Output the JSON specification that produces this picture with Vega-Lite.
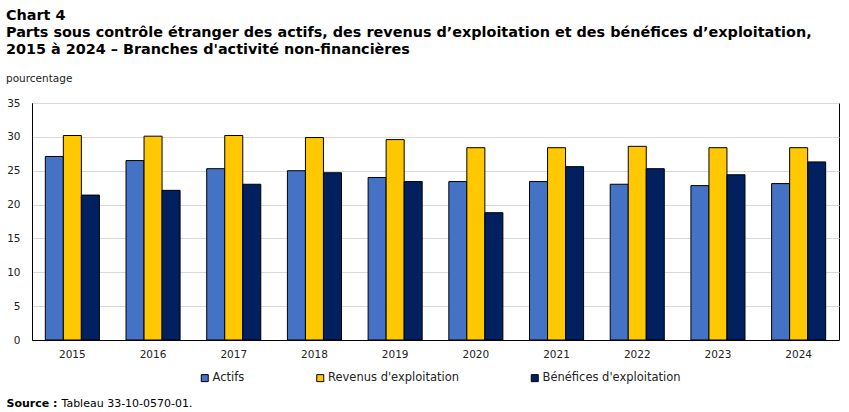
{
  "$schema": "https://vega.github.io/schema/vega-lite/v6.json",
  "autosize": "none",
  "width": 807,
  "height": 237,
  "padding": {"left": 32, "top": 103, "right": 10, "bottom": 72},
  "background": "white",
  "config": {
    "font": "DejaVu Sans",
    "view": {"stroke": "black", "strokeWidth": 1},
    "axis": {"labelFont": "DejaVu Sans", "titleFont": "DejaVu Sans"}
  },
  "title": {
    "text": [
      "Chart 4",
      "Parts sous contrôle étranger des actifs, des revenus d’exploitation et des bénéfices d’exploitation,",
      "2015 à 2024 – Branches d'activité non-financières"
    ],
    "subtitle": "pourcentage",
    "anchor": "start",
    "frame": "bounds",
    "font": "DejaVu Sans",
    "fontSize": 14.4,
    "fontWeight": "bold",
    "lineHeight": 17,
    "color": "black",
    "subtitleFont": "DejaVu Sans",
    "subtitleFontSize": 10.5,
    "subtitleColor": "#222222",
    "subtitlePadding": 16,
    "offset": 13
  },
  "data": {
    "values": [
      {"annee": "2015", "serie": "Actifs", "valeur": 27.1},
      {"annee": "2015", "serie": "Revenus d'exploitation", "valeur": 30.2},
      {"annee": "2015", "serie": "Bénéfices d'exploitation", "valeur": 21.4},
      {"annee": "2016", "serie": "Actifs", "valeur": 26.5},
      {"annee": "2016", "serie": "Revenus d'exploitation", "valeur": 30.1},
      {"annee": "2016", "serie": "Bénéfices d'exploitation", "valeur": 22.1},
      {"annee": "2017", "serie": "Actifs", "valeur": 25.3},
      {"annee": "2017", "serie": "Revenus d'exploitation", "valeur": 30.2},
      {"annee": "2017", "serie": "Bénéfices d'exploitation", "valeur": 23.0},
      {"annee": "2018", "serie": "Actifs", "valeur": 25.0},
      {"annee": "2018", "serie": "Revenus d'exploitation", "valeur": 29.9},
      {"annee": "2018", "serie": "Bénéfices d'exploitation", "valeur": 24.7},
      {"annee": "2019", "serie": "Actifs", "valeur": 24.0},
      {"annee": "2019", "serie": "Revenus d'exploitation", "valeur": 29.6},
      {"annee": "2019", "serie": "Bénéfices d'exploitation", "valeur": 23.4},
      {"annee": "2020", "serie": "Actifs", "valeur": 23.4},
      {"annee": "2020", "serie": "Revenus d'exploitation", "valeur": 28.4},
      {"annee": "2020", "serie": "Bénéfices d'exploitation", "valeur": 18.8},
      {"annee": "2021", "serie": "Actifs", "valeur": 23.4},
      {"annee": "2021", "serie": "Revenus d'exploitation", "valeur": 28.4},
      {"annee": "2021", "serie": "Bénéfices d'exploitation", "valeur": 25.6},
      {"annee": "2022", "serie": "Actifs", "valeur": 23.0},
      {"annee": "2022", "serie": "Revenus d'exploitation", "valeur": 28.6},
      {"annee": "2022", "serie": "Bénéfices d'exploitation", "valeur": 25.3},
      {"annee": "2023", "serie": "Actifs", "valeur": 22.8},
      {"annee": "2023", "serie": "Revenus d'exploitation", "valeur": 28.4},
      {"annee": "2023", "serie": "Bénéfices d'exploitation", "valeur": 24.4},
      {"annee": "2024", "serie": "Actifs", "valeur": 23.1},
      {"annee": "2024", "serie": "Revenus d'exploitation", "valeur": 28.4},
      {"annee": "2024", "serie": "Bénéfices d'exploitation", "valeur": 26.3}
    ]
  },
  "mark": {"type": "bar", "stroke": "black", "strokeWidth": 1},
  "encoding": {
    "x": {
      "field": "annee",
      "type": "ordinal",
      "scale": {"paddingInner": 0.33, "paddingOuter": 0.165},
      "axis": {
        "labelAngle": 0,
        "labelFontSize": 10.5,
        "labelColor": "#222222",
        "labelPadding": 9,
        "ticks": false,
        "domainColor": "black",
        "domainWidth": 1,
        "title": "Source :",
        "titleFontWeight": "bold",
        "titleFontSize": 11,
        "titleColor": "black",
        "titleAlign": "left",
        "titleBaseline": "alphabetic",
        "titleX": -26,
        "titleY": 66
      }
    },
    "xOffset": {
      "field": "serie",
      "sort": ["Actifs", "Revenus d'exploitation", "Bénéfices d'exploitation"]
    },
    "y": {
      "field": "valeur",
      "type": "quantitative",
      "scale": {"domain": [0, 35], "nice": false},
      "axis": {
        "values": [0, 5, 10, 15, 20, 25, 30, 35],
        "labelFontSize": 10.5,
        "labelColor": "#222222",
        "labelPadding": 12,
        "ticks": false,
        "domainColor": "black",
        "gridColor": "#d9d9d9",
        "gridWidth": 1,
        "title": "Tableau 33-10-0570-01.",
        "titleAngle": 0,
        "titleFontWeight": "normal",
        "titleFontSize": 11,
        "titleColor": "black",
        "titleAlign": "left",
        "titleBaseline": "alphabetic",
        "titleX": 29,
        "titleY": 303
      }
    },
    "color": {
      "field": "serie",
      "type": "nominal",
      "scale": {
        "domain": ["Actifs", "Revenus d'exploitation", "Bénéfices d'exploitation"],
        "range": ["#4472c4", "#ffc800", "#002060"]
      },
      "legend": {
        "orient": "none",
        "legendX": 167,
        "legendY": 269,
        "direction": "horizontal",
        "title": null,
        "symbolType": "square",
        "symbolSize": 49,
        "symbolStrokeColor": "black",
        "symbolStrokeWidth": 1,
        "labelFontSize": 11.5,
        "labelColor": "#222222",
        "labelOffset": 2,
        "columnPadding": 69.5
      }
    }
  }
}
